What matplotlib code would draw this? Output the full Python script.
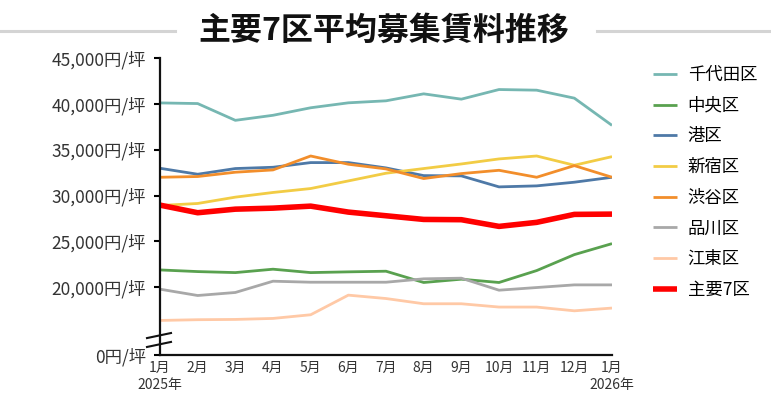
import matplotlib
matplotlib.use("Agg")
import matplotlib.pyplot as plt
from matplotlib.lines import Line2D

plt.rcParams['font.family'] = ['Noto Sans CJK JP', 'DejaVu Sans']

# months Jan 2025 .. Jan 2026
months = ["1月\n2025年", "2月", "3月", "4月", "5月", "6月", "7月", "8月", "9月",
          "10月", "11月", "12月", "1月\n2026年"]

chiyoda = [40100, 40030, 38200, 38750, 39570, 40110, 40330, 41090, 40510, 41560, 41490, 40620, 37650]
chuo = [21880, 21700, 21590, 21960, 21590, 21670, 21740, 20510, 20870, 20510, 21810, 23550, 24750]
minato = [32970, 32320, 32940, 33080, 33590, 33590, 33010, 32170, 32140, 30940, 31050, 31450, 31990]
shinjuku = [28910, 29130, 29820, 30330, 30760, 31590, 32430, 32940, 33440, 33990, 34310, 33300, 34240]
shibuya = [31990, 32070, 32540, 32790, 34310, 33410, 32900, 31850, 32390, 32750, 31990, 33260, 31990]
shinagawa = [19780, 19090, 19420, 20650, 20540, 20540, 20540, 20910, 20980, 19670, 19960, 20250, 20250]
koto = [16370, 16450, 16480, 16590, 16990, 19130, 18760, 18190, 18190, 17830, 17830, 17420, 17720]
major7 = [28950, 28120, 28510, 28620, 28840, 28190, 27790, 27390, 27360, 26630, 27070, 27940, 27970]

series = [
    ("千代田区", chiyoda, "#76b7b2", 2.0),
    ("中央区", chuo, "#59a14f", 2.0),
    ("港区", minato, "#4e79a7", 2.0),
    ("新宿区", shinjuku, "#f2cc45", 2.0),
    ("渋谷区", shibuya, "#f28e2b", 2.0),
    ("品川区", shinagawa, "#a8a8a8", 2.0),
    ("江東区", koto, "#ffc9a6", 2.0),
    ("主要7区", major7, "#ff0000", 4.0),
]

y_ticks = [12600, 20000, 25000, 30000, 35000, 40000, 45000]
y_labels = ["0円/坪", "20,000円/坪", "25,000円/坪", "30,000円/坪",
            "35,000円/坪", "40,000円/坪", "45,000円/坪"]

fig = plt.figure(figsize=(7.71, 4.04), dpi=100)
ax = fig.add_axes([160 / 771, 1 - 355 / 404, 452 / 771, 297 / 404])

x = list(range(len(months)))
for name, vals, color, lw in series:
    ax.plot(x, vals, color=color, lw=lw, label=name, solid_capstyle='butt')

ax.set_xlim(0, 12)
ax.set_ylim(12600, 45000)
ax.set_xticks(x)
ax.set_xticklabels(months, fontsize=10, color="#333333", linespacing=1.3)
ax.set_yticks(y_ticks)
ax.set_yticklabels(y_labels, fontsize=12.5, color="#333333")
ax.tick_params(axis='x', length=0, pad=4)
ax.tick_params(axis='y', length=4, width=1.5, pad=6)
for s in ["top", "right"]:
    ax.spines[s].set_visible(False)
for s in ["left", "bottom"]:
    ax.spines[s].set_linewidth(1.6)
    ax.spines[s].set_color("#111111")

# axis break marks
for y0 in (0.027, 0.057):
    ax.add_line(Line2D([-13 / 452, 11 / 452], [y0, y0 + 0.017], transform=ax.transAxes,
                       color="#111111", lw=1.5, clip_on=False))

fig.legend(loc="upper left", bbox_to_anchor=(653 / 771, 1 - 66 / 404), frameon=False,
           fontsize=12.5, handlelength=1.4, handletextpad=0.6, labelspacing=0.73,
           borderaxespad=0, borderpad=0)

fig.text(0.498, 1 - 31 / 404, "主要7区平均募集賃料推移", fontsize=23, fontweight="bold",
         ha="center", va="center", color="#111111")
fig.add_artist(Line2D([0, 175 / 771], [1 - 31 / 404] * 2, color="#d4d4d4", lw=2.2))
fig.add_artist(Line2D([597 / 771, 1], [1 - 31 / 404] * 2, color="#d4d4d4", lw=2.2))

fig.savefig("out.png", dpi=100)
